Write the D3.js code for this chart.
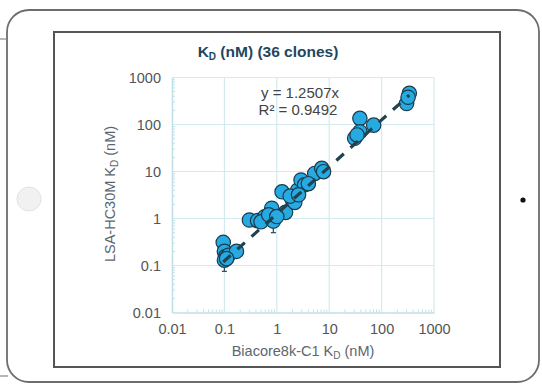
<!DOCTYPE html>
<html>
<head>
<meta charset="utf-8">
<script src="https://cdn.jsdelivr.net/npm/d3@7"></script>
<style>
  body { margin: 0; background: #fff; }
  svg { display: block; font-family: "Liberation Sans", Arial, sans-serif; }
</style>
</head>
<body>
<svg id="chart" width="542" height="385"></svg>
<script>
// Biacore8k-C1 KD (x) vs LSA-HC30M KD (y), nM, 36 clones
const kdBiacore = [0.095, 0.10, 0.105, 0.10, 0.12, 0.17, 0.11,
  0.30, 0.43, 0.59, 0.80, 0.86, 0.50, 1.47, 0.70, 1.0,
  1.26, 1.99, 2.5, 2.9, 3.4, 5.3, 7.2, 7.8, 2.2, 1.8, 2.6, 4.0,
  38.5, 30.6, 38.5, 70.6, 34, 338, 300, 320];
const kdLsa = [0.31, 0.20, 0.155, 0.13, 0.165, 0.20, 0.14,
  0.93, 0.90, 1.09, 1.65, 0.88, 0.85, 1.35, 1.2, 1.1,
  3.7, 2.5, 4.0, 6.6, 5.2, 9.1, 11.7, 9.9, 2.2, 3.0, 3.2, 5.5,
  135, 51, 70, 97, 60, 460, 280, 380];
// lower end of the y error bar (null = hidden behind the marker)
const kdLsaLow = [null, null, null, 0.075, null, null, null,
  null, null, null, null, 0.5, null, null, null, null,
  null, null, null, null, null, null, null, null, null, null, null, null,
  null, null, null, null, null, null, null, null];
const tickValues = [0.01, 0.1, 1, 10, 100, 1000];
const tickLabels = ["0.01", "0.1", "1", "10", "100", "1000"];
const slope = 1.2507;
const eqText = "y = 1.2507x";
const r2Text = "R\u00b2 = 0.9492";

const svg = d3.select("#chart");

// tablet body
svg.append("rect")
  .attr("x", 7).attr("y", 10).attr("width", 532).attr("height", 372)
  .attr("rx", 22).attr("ry", 22)
  .attr("fill", "#fff").attr("stroke", "#6d6d6d").attr("stroke-width", 1.8);
svg.append("line").attr("x1", 0).attr("x2", 7).attr("y1", 39).attr("y2", 39)
  .attr("stroke", "#888").attr("stroke-width", 1.2);
svg.append("line").attr("x1", 0).attr("x2", 8).attr("y1", 376).attr("y2", 376)
  .attr("stroke", "#888").attr("stroke-width", 1.2);
svg.append("circle").attr("cx", 29).attr("cy", 199).attr("r", 12)
  .attr("fill", "#f1f1f1").attr("stroke", "#e2e2e2");
svg.append("circle").attr("cx", 523).attr("cy", 200).attr("r", 2.6)
  .attr("fill", "#111");

// chart frame
svg.append("rect")
  .attr("x", 54).attr("y", 32).attr("width", 446).attr("height", 335)
  .attr("fill", "#fff").attr("stroke", "#555").attr("stroke-width", 2);

const x = d3.scaleLog().domain([0.01, 1000]).range([172, 434]);
const y = d3.scaleLog().domain([0.01, 1000]).range([312.5, 77.5]);

// grid
const grid = svg.append("g");
grid.selectAll(".gx").data(tickValues.slice(1)).enter().append("line")
  .attr("x1", d => x(d)).attr("x2", d => x(d))
  .attr("y1", y(0.01)).attr("y2", y(1000))
  .attr("stroke", "#d3ebef").attr("stroke-width", 1.2);
grid.selectAll(".gy").data(tickValues.slice(1)).enter().append("line")
  .attr("x1", x(0.01)).attr("x2", x(1000))
  .attr("y1", d => y(d)).attr("y2", d => y(d))
  .attr("stroke", "#d3ebef").attr("stroke-width", 1.2);

// minor ticks along the axes
const minor = [];
tickValues.slice(0, -1).forEach(v => { for (let k = 2; k < 10; k++) minor.push(v * k); });
grid.selectAll(".mx").data(minor).enter().append("line")
  .attr("x1", d => x(d)).attr("x2", d => x(d))
  .attr("y1", y(0.01)).attr("y2", y(0.01) - 3)
  .attr("stroke", "#c2e2e8");
grid.selectAll(".my").data(minor).enter().append("line")
  .attr("x1", x(0.01)).attr("x2", x(0.01) + 3)
  .attr("y1", d => y(d)).attr("y2", d => y(d))
  .attr("stroke", "#c2e2e8");

// axes
const xAxis = svg.append("g").attr("transform", "translate(0," + y(0.01) + ")")
  .call(d3.axisBottom(x).tickValues(tickValues).tickFormat((d, i) => tickLabels[i]).tickSize(0).tickPadding(11));
const yAxis = svg.append("g").attr("transform", "translate(" + x(0.01) + ",0)")
  .call(d3.axisLeft(y).tickValues(tickValues).tickFormat((d, i) => tickLabels[i]).tickSize(0).tickPadding(11));
[xAxis, yAxis].forEach(a => {
  a.select(".domain").attr("stroke", "#bfe0e6").attr("stroke-width", 1.6);
  a.selectAll("text").attr("fill", "#555").style("font-size", "14.5px")
    .style("font-family", "'Liberation Sans', Arial, sans-serif");
});

// error bars
const errIdx = d3.range(kdLsa.length).filter(i => kdLsaLow[i] !== null);
const err = svg.append("g").attr("stroke", "#2c5563").attr("stroke-width", 1.3);
err.selectAll(".eb").data(errIdx).enter().append("line")
  .attr("x1", i => x(kdBiacore[i])).attr("x2", i => x(kdBiacore[i]))
  .attr("y1", i => y(kdLsa[i])).attr("y2", i => y(kdLsaLow[i]));
err.selectAll(".ec").data(errIdx).enter().append("line")
  .attr("x1", i => x(kdBiacore[i]) - 2.5).attr("x2", i => x(kdBiacore[i]) + 2.5)
  .attr("y1", i => y(kdLsaLow[i])).attr("y2", i => y(kdLsaLow[i]));

// points
svg.append("g").selectAll("circle").data(d3.range(kdLsa.length)).enter().append("circle")
  .attr("cx", i => x(kdBiacore[i]))
  .attr("cy", i => y(kdLsa[i]))
  .attr("r", 7.2)
  .attr("fill", "#27aae2")
  .attr("stroke", "#1b3b4b")
  .attr("stroke-width", 1.2);

// fitted line through origin
const fitX = [d3.min(kdBiacore), d3.max(kdBiacore)];
svg.append("path")
  .datum(fitX)
  .attr("d", d3.line().x(d => x(d)).y(d => y(d * slope)))
  .attr("fill", "none")
  .attr("stroke", "#21434f")
  .attr("stroke-width", 3.2)
  .attr("stroke-dasharray", "10,9");

// equation
svg.append("text").attr("x", 300).attr("y", 98).attr("text-anchor", "middle")
  .attr("fill", "#444").style("font-size", "15px").text(eqText);
svg.append("text").attr("x", 298).attr("y", 115).attr("text-anchor", "middle")
  .attr("fill", "#444").style("font-size", "15px").text(r2Text);

// title
const title = svg.append("text").attr("x", 268).attr("y", 57).attr("text-anchor", "middle")
  .attr("fill", "#1f4760").style("font-size", "15.5px").style("font-weight", "bold");
title.append("tspan").text("K");
title.append("tspan").attr("dy", 3).style("font-size", "10px").text("D");
title.append("tspan").attr("dy", -3).text(" (nM) (36 clones)");

// axis titles
const xt = svg.append("text").attr("x", 303).attr("y", 356).attr("text-anchor", "middle")
  .attr("fill", "#5b6770").style("font-size", "14.5px");
xt.append("tspan").text("Biacore8k-C1 K");
xt.append("tspan").attr("dy", 3).style("font-size", "10px").text("D");
xt.append("tspan").attr("dy", -3).text(" (nM)");

const yt = svg.append("text").attr("transform", "translate(115,194) rotate(-90)")
  .attr("text-anchor", "middle").attr("fill", "#5b6770").style("font-size", "14.5px");
yt.append("tspan").text("LSA-HC30M K");
yt.append("tspan").attr("dy", 3).style("font-size", "10px").text("D");
yt.append("tspan").attr("dy", -3).text(" (nM)");
</script>
</body>
</html>
